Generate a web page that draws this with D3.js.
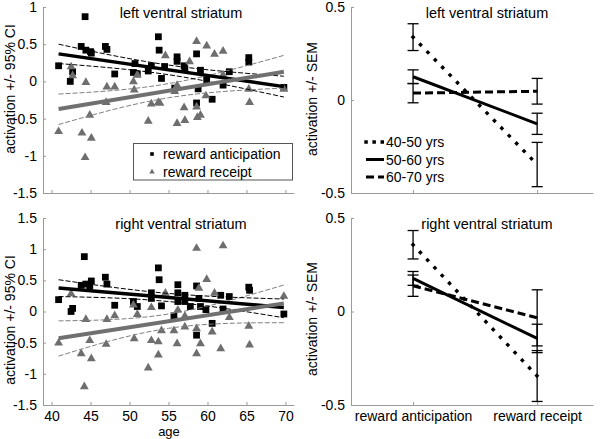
<!DOCTYPE html>
<html>
<head>
<meta charset="utf-8">
<script src="https://cdn.jsdelivr.net/npm/d3@7"></script>
<style>
  body { margin: 0; background: #fff; }
  svg { font-family: "Liberation Sans", Arial, sans-serif; }
</style>
</head>
<body>
<svg id="chart" width="600" height="439"></svg>
<script>
// data -----------------------------------------------------------------------------------
// [age, activation] per subject
const lvsAnticipation = [
  [40.9, 0.21], [42.4, 0.00], [42.7, 0.13], [43.8, 0.47], [44.3, 0.87], [44.4, 0.42],
  [45.0, 0.40], [45.1, 0.38], [46.9, 0.47], [47.1, 0.43], [48.1, 0.10], [50.5, 0.12],
  [50.7, 0.24], [51.0, 0.10], [52.4, 0.14], [52.8, 0.21], [53.7, 0.60], [53.8, 0.42],
  [54.1, 0.04], [54.5, 0.20], [55.8, -0.09], [56.1, 0.33], [56.1, 0.27], [57.0, 0.21],
  [57.1, 0.17], [58.6, 0.37], [58.6, -0.29], [58.8, -0.10], [59.1, 0.15], [59.9, 0.02],
  [60.6, -0.24], [62.0, -0.05], [62.8, 0.13], [65.3, 0.32], [65.3, 0.26], [69.8, -0.08]
];
const lvsReceipt = [
  [40.9, -0.66], [42.5, 0.21], [42.7, 0.09], [43.9, -0.68], [44.3, -1.01], [44.4, 0.00],
  [44.9, -0.44], [45.1, -0.75], [47.0, -0.27], [47.1, -0.06], [48.1, -0.06], [50.5, 0.01],
  [50.6, -0.10], [51.0, 0.10], [52.4, -0.52], [52.8, -0.29], [53.7, -0.27], [53.9, -0.28],
  [54.6, 0.36], [55.8, -0.12], [56.1, -0.04], [56.1, -0.55], [57.0, -0.34], [57.1, -0.51],
  [57.7, 0.28], [58.6, 0.55], [58.6, -0.33], [58.7, -0.47], [59.1, -0.44], [59.8, -0.18],
  [59.9, 0.49], [60.9, 0.38], [62.0, 0.42], [62.0, 0.10], [65.3, -0.09], [65.4, -0.27],
  [69.8, -0.09]
];
const rvsAnticipation = [
  [40.9, 0.19], [42.5, 0.00], [42.7, 0.05], [43.8, 0.42], [44.2, 0.88], [44.4, 0.44],
  [44.9, 0.41], [45.1, 0.49], [46.9, 0.55], [47.1, 0.44], [48.1, 0.10], [50.5, 0.16],
  [51.0, 0.08], [52.8, 0.30], [52.8, 0.21], [53.7, 0.70], [53.8, 0.51], [54.1, 0.09],
  [55.7, -0.07], [56.2, 0.43], [56.2, 0.30], [56.2, 0.16], [57.1, 0.26], [57.1, 0.16],
  [57.8, 0.08], [58.6, 0.41], [58.6, -0.38], [58.9, 0.21], [59.1, 0.08], [59.8, 0.03],
  [60.6, -0.19], [61.7, 0.26], [62.0, 0.04], [62.8, 0.24], [65.3, 0.39], [65.4, 0.34],
  [69.8, -0.04]
];
const rvsReceipt = [
  [40.9, -0.49], [42.5, 0.30], [43.8, -0.66], [44.2, -1.19], [44.4, -0.11], [44.9, -0.45],
  [45.1, -0.74], [47.0, -0.51], [47.1, -0.11], [48.1, -0.05], [50.5, 0.12], [50.6, -0.42],
  [51.0, -0.03], [52.4, -0.89], [52.8, -0.45], [52.8, 0.08], [53.7, -0.47], [53.7, -0.68],
  [54.1, -0.29], [54.6, 0.31], [55.7, -0.29], [56.1, -0.50], [56.2, 0.04], [57.1, -0.06],
  [57.1, -0.23], [58.6, 1.03], [58.6, -0.26], [58.6, -0.66], [58.9, 0.39], [59.1, -0.50],
  [59.9, 0.53], [60.6, -0.31], [60.9, 0.31], [61.7, -0.58], [62.0, 1.07], [62.8, -0.08],
  [65.3, -0.22], [65.4, -0.52], [69.8, 0.26]
];

// regression line and 95% CI: [age, value]
const lvsFitAnt = [[40.9, 0.37], [69.8, -0.07]];
const lvsCiAntHi = [[40.9, 0.50], [55, 0.22], [69.8, 0.07]];
const lvsCiAntLo = [[40.9, 0.24], [55, 0.09], [69.8, -0.21]];
const lvsFitRec = [[40.9, -0.37], [69.8, 0.13]];
const lvsCiRecHi = [[40.9, -0.17], [55, -0.03], [69.8, 0.35]];
const lvsCiRecLo = [[40.9, -0.58], [55, -0.22], [69.8, -0.09]];

const rvsFitAnt = [[40.9, 0.376], [69.8, 0.065]];
const rvsCiAntHi = [[40.9, 0.51], [55, 0.29], [69.8, 0.20]];
const rvsCiAntLo = [[40.9, 0.24], [55, 0.16], [69.8, -0.10]];
const rvsFitRec = [[40.9, -0.43], [69.8, 0.13]];
const rvsCiRecHi = [[40.9, -0.15], [55, -0.04], [69.8, 0.425]];
const rvsCiRecLo = [[40.9, -0.715], [55, -0.27], [69.8, -0.18]];

// age group means +/- SEM, [anticipation, receipt]
const ageGroups = ['40-50 yrs', '50-60 yrs', '60-70 yrs'];
const conditions = ['reward anticipation', 'reward receipt'];
const lvsMeans = [[0.338, -0.347], [0.125, -0.128], [0.037, 0.047]];
const lvsSem = [[0.072, 0.119], [0.037, 0.057], [0.052, 0.069]];
const rvsMeans = [[0.357, -0.345], [0.177, -0.144], [0.138, -0.034]];
const rvsSem = [[0.076, 0.136], [0.037, 0.076], [0.057, 0.15]];

const ageTicks = [40, 45, 50, 55, 60, 65, 70];
const lvsTicks = [-1.5, -1, -0.5, 0, 0.5, 1];
const rvsTicks = [-1.5, -1, -0.5, 0, 0.5, 1, 1.5];
const semTicks = [-0.5, 0, 0.5];

// layout ---------------------------------------------------------------------------------
const svg = d3.select('#chart');
const axisColor = '#9a9a9a';
const grayMark = '#6e6e6e';
const fontSize = 14;
const leftRange = [43, 294];
const rightRange = [351, 593];
const topRange = [193, 7];
const botRange = [405, 218];

const lineStyles = [
  { dash: '0.1 10.5', cap: 'square', width: 3.4 },
  { dash: null, cap: 'butt', width: 3 },
  { dash: '8 4', cap: 'butt', width: 3 }
];

// axes -----------------------------------------------------------------------------------
function drawAxes (x, y, yBase, xLeft, xTicks, yTicks, xFormat) {
  const gx = svg.append('g')
  .attr('transform', 'translate(0,' + yBase + ')')
  .call(d3.axisBottom(x).tickValues(xTicks).tickSizeInner(-3).tickSizeOuter(0)
    .tickPadding(6).tickFormat(xFormat));
  const gy = svg.append('g')
  .attr('transform', 'translate(' + xLeft + ',0)')
  .call(d3.axisLeft(y).tickValues(yTicks).tickSizeInner(-3).tickSizeOuter(0)
    .tickPadding(6).tickFormat(d => String(d)));
  [gx, gy].forEach(g => {
    g.attr('font-size', null).attr('font-family', null);
    g.select('.domain').attr('stroke', axisColor);
    g.selectAll('.tick line').attr('stroke', axisColor);
    g.selectAll('.tick text').attr('fill', '#000').style('font-size', fontSize + 'px');
  });
}

function yLabel (text, cx, cy) {
  svg.append('text')
  .attr('transform', 'translate(' + cx + ',' + cy + ') rotate(-90)')
  .attr('text-anchor', 'middle')
  .style('font-size', fontSize + 'px')
  .text(text);
}

function title (text, cx, by) {
  svg.append('text')
  .attr('x', cx)
  .attr('y', by)
  .attr('text-anchor', 'middle')
  .style('font-size', '14.5px')
  .text(text);
}

// scatter panel --------------------------------------------------------------------------
function scatterPanel (p) {
  const x = d3.scaleLinear().domain([38.9, 71.1]).range(leftRange);
  const y = d3.scaleLinear().domain(p.yDomain).range(p.yRange);
  drawAxes(x, y, p.yRange[0], leftRange[0], ageTicks, p.yTicks,
    p.xLabels ? d => String(d) : () => '');

  const sq = d3.symbol().type(d3.symbolSquare).size(46);
  const tri = d3.symbol().type(d3.symbolTriangle).size(34);
  svg.append('g').selectAll('path')
  .data(p.ant)
  .enter()
  .append('path')
  .attr('d', sq)
  .attr('transform', d => 'translate(' + x(d[0]) + ',' + y(d[1]) + ')')
  .attr('fill', '#000');
  svg.append('g').selectAll('path')
  .data(p.rec)
  .enter()
  .append('path')
  .attr('d', tri)
  .attr('transform', d => 'translate(' + x(d[0]) + ',' + (y(d[1]) + 1) + ')')
  .attr('fill', grayMark);

  const line = d3.line().x(d => x(d[0])).y(d => y(d[1])).curve(d3.curveNatural);
  const lines = [
    { d: p.ciRecHi, stroke: '#808080', w: 1, dash: '5 2' },
    { d: p.ciRecLo, stroke: '#808080', w: 1, dash: '5 2' },
    { d: p.ciAntHi, stroke: '#000', w: 1, dash: '5 2' },
    { d: p.ciAntLo, stroke: '#000', w: 1, dash: '5 2' },
    { d: p.fitAnt, stroke: '#000', w: 3.5, dash: null },
    { d: p.fitRec, stroke: '#707070', w: 4, dash: null }
  ];
  svg.append('g').selectAll('path')
  .data(lines)
  .enter()
  .append('path')
  .attr('d', d => line(d.d))
  .attr('fill', 'none')
  .attr('stroke', d => d.stroke)
  .attr('stroke-width', d => d.w)
  .attr('stroke-dasharray', d => d.dash);

  title(p.title, 181, p.titleY);
  yLabel('activation +/- 95% CI', 15, p.labelY);
}

// group means panel ----------------------------------------------------------------------
function groupPanel (p) {
  const x = d3.scaleLinear().domain([0.5, 2.45]).range(rightRange);
  const y = d3.scaleLinear().domain([-0.5, 0.5]).range(p.yRange);
  drawAxes(x, y, p.yRange[0], rightRange[0], [1, 2], semTicks,
    p.xLabels ? d => conditions[d - 1] : () => '');

  // error bars
  const bars = [];
  p.means.forEach((m, gi) => m.forEach((v, ci) => bars.push({ x: ci + 1, v: v, e: p.sem[gi][ci] })));
  const eb = svg.append('g').attr('stroke', '#000').attr('stroke-width', 1.3);
  bars.forEach(b => {
    const cx = x(b.x);
    eb.append('line').attr('x1', cx).attr('x2', cx).attr('y1', y(b.v - b.e)).attr('y2', y(b.v + b.e));
    [b.v - b.e, b.v + b.e].forEach(t => {
      eb.append('line').attr('x1', cx - 5.5).attr('x2', cx + 5.5).attr('y1', y(t)).attr('y2', y(t));
    });
  });

  // group lines
  svg.append('g').selectAll('line')
  .data(p.means)
  .enter()
  .append('line')
  .attr('x1', x(1))
  .attr('x2', x(2))
  .attr('y1', d => y(d[0]))
  .attr('y2', d => y(d[1]))
  .attr('stroke', '#000')
  .attr('stroke-width', (d, i) => lineStyles[i].width)
  .attr('stroke-linecap', (d, i) => lineStyles[i].cap)
  .attr('stroke-dasharray', (d, i) => lineStyles[i].dash);

  title(p.title, 487, p.titleY);
  yLabel('activation +/- SEM', 317, p.labelY);
}

// draw -----------------------------------------------------------------------------------
scatterPanel({
  title: 'left ventral striatum', titleY: 18, labelY: 89,
  yDomain: [-1.5, 1], yRange: topRange, yTicks: lvsTicks, xLabels: false,
  ant: lvsAnticipation, rec: lvsReceipt,
  fitAnt: lvsFitAnt, ciAntHi: lvsCiAntHi, ciAntLo: lvsCiAntLo,
  fitRec: lvsFitRec, ciRecHi: lvsCiRecHi, ciRecLo: lvsCiRecLo
});
scatterPanel({
  title: 'right ventral striatum', titleY: 229, labelY: 320,
  yDomain: [-1.5, 1.5], yRange: botRange, yTicks: rvsTicks, xLabels: true,
  ant: rvsAnticipation, rec: rvsReceipt,
  fitAnt: rvsFitAnt, ciAntHi: rvsCiAntHi, ciAntLo: rvsCiAntLo,
  fitRec: rvsFitRec, ciRecHi: rvsCiRecHi, ciRecLo: rvsCiRecLo
});
groupPanel({ title: 'left ventral striatum', titleY: 18, labelY: 99, yRange: topRange,
  means: lvsMeans, sem: lvsSem, xLabels: false });
groupPanel({ title: 'right ventral striatum', titleY: 229, labelY: 319, yRange: botRange,
  means: rvsMeans, sem: rvsSem, xLabels: true });

// x label
svg.append('text')
.attr('x', 169)
.attr('y', 436)
.attr('text-anchor', 'middle')
.style('font-size', '13px')
.text('age');

// legend: scatter --------------------------------------------------------------------------
const leg = svg.append('g');
leg.append('rect')
.attr('x', 133.5).attr('y', 143.5).attr('width', 159).attr('height', 36.5)
.attr('fill', '#fff').attr('stroke', '#555').attr('stroke-width', 1);
const legItems = [
  { label: 'reward anticipation', sym: d3.symbolSquare, fill: '#000', y: 154 },
  { label: 'reward receipt', sym: d3.symbolTriangle, fill: grayMark, y: 172 }
];
legItems.forEach(d => {
  leg.append('path')
  .attr('d', d3.symbol().type(d.sym).size(13))
  .attr('transform', 'translate(152,' + d.y + ')')
  .attr('fill', d.fill);
  leg.append('text')
  .attr('x', 163)
  .attr('y', d.y + 4.5)
  .style('font-size', fontSize + 'px')
  .text(d.label);
});

// legend: age groups -----------------------------------------------------------------------
ageGroups.forEach((g, i) => {
  const ly = 142 + i * 17.5;
  svg.append('line')
  .attr('x1', 366).attr('x2', 384).attr('y1', ly).attr('y2', ly)
  .attr('stroke', '#000')
  .attr('stroke-width', lineStyles[i].width)
  .attr('stroke-linecap', lineStyles[i].cap)
  .attr('stroke-dasharray', i === 0 ? '0.1 8' : lineStyles[i].dash);
  svg.append('text')
  .attr('x', 386)
  .attr('y', ly + 5)
  .style('font-size', fontSize + 'px')
  .text(g);
});
</script>
</body>
</html>
